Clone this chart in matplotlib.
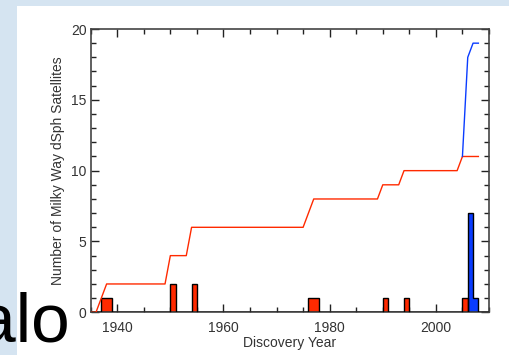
import numpy as np
import matplotlib
matplotlib.use("Agg")
import matplotlib.pyplot as plt
from matplotlib.patches import Rectangle
from matplotlib.ticker import MultipleLocator

# Discovery counts per year (classical dSphs in red, SDSS-era in blue)
red_years = [1937, 1938, 1950, 1954, 1976, 1977, 1990, 1994, 2005]
red_counts = [1, 1, 2, 2, 1, 1, 1, 1, 1]
blue_years = [2006, 2007]
blue_counts = [7, 1]

x_ticks = [1940, 1960, 1980, 2000]
y_ticks = [0, 5, 10, 15, 20]

# Yearly bins
edges = np.arange(1935, 2011)
red_hist = np.zeros(len(edges) - 1)
blue_hist = np.zeros(len(edges) - 1)
for y, c in zip(red_years, red_counts):
    red_hist[y - 1935] += c
for y, c in zip(blue_years, blue_counts):
    blue_hist[y - 1935] += c

# Cumulative curves evaluated at each year
years = edges[:-1]
red_cum = np.cumsum(red_hist)
all_cum = np.cumsum(red_hist + blue_hist)
red_mask = years <= 2008
blue_mask = (years >= 2005) & (years <= 2008)

plt.rcParams['font.family'] = ['Liberation Sans', 'DejaVu Sans']

fig = plt.figure(figsize=(5.10, 3.55), dpi=100)
fig.patch.set_facecolor('#d5e4f1')
fig.add_artist(Rectangle((17 / 510, 0), 1, 1 - 6 / 355, transform=fig.transFigure,
                         facecolor='white', edgecolor='none', zorder=0))

ax = fig.add_axes([0.1778, 0.1203, 0.781, 0.798])
ax.set_facecolor('white')

RED = '#ff2a00'
BLUE = '#0a3cff'

# Histograms
ax.stairs(blue_hist, edges, fill=True, color=BLUE, zorder=2)
ax.stairs(blue_hist, edges, color='black', linewidth=1.0, zorder=3)
ax.stairs(red_hist, edges, fill=True, color=RED, zorder=2)
ax.stairs(red_hist, edges, color='black', linewidth=1.0, zorder=3)

# Cumulative counts
ax.plot(years[red_mask], red_cum[red_mask], color=RED, linewidth=1.0, zorder=4)
ax.plot(years[blue_mask], all_cum[blue_mask], color=BLUE, linewidth=1.0, zorder=4)

ax.set_xlim(1935, 2010)
ax.set_ylim(0, 20)
ax.set_xticks(x_ticks)
ax.set_yticks(y_ticks)
ax.xaxis.set_minor_locator(MultipleLocator(5))
ax.yaxis.set_minor_locator(MultipleLocator(1))
ax.tick_params(which='both', direction='in', top=True, right=True,
               colors='#222222', labelcolor='#333333', labelsize=10)
ax.tick_params(which='major', length=6, width=1.0)
ax.tick_params(which='minor', length=3.5, width=1.0)
ax.tick_params(axis='x', which='major', pad=6)
ax.tick_params(axis='y', which='major', pad=3)
for s in ax.spines.values():
    s.set_color('#444444')
    s.set_linewidth(1.2)

ax.set_xlabel('Discovery Year', fontsize=10, color='#333333', labelpad=1)
ax.set_ylabel('Number of Milky Way dSph Satellites', fontsize=10, color='#333333', labelpad=4)

fig.text(70 / 510, 14 / 355, 'alo', fontsize=50, color='black', ha='right', va='baseline')

fig.savefig('out.png', dpi=100, facecolor=fig.get_facecolor())
